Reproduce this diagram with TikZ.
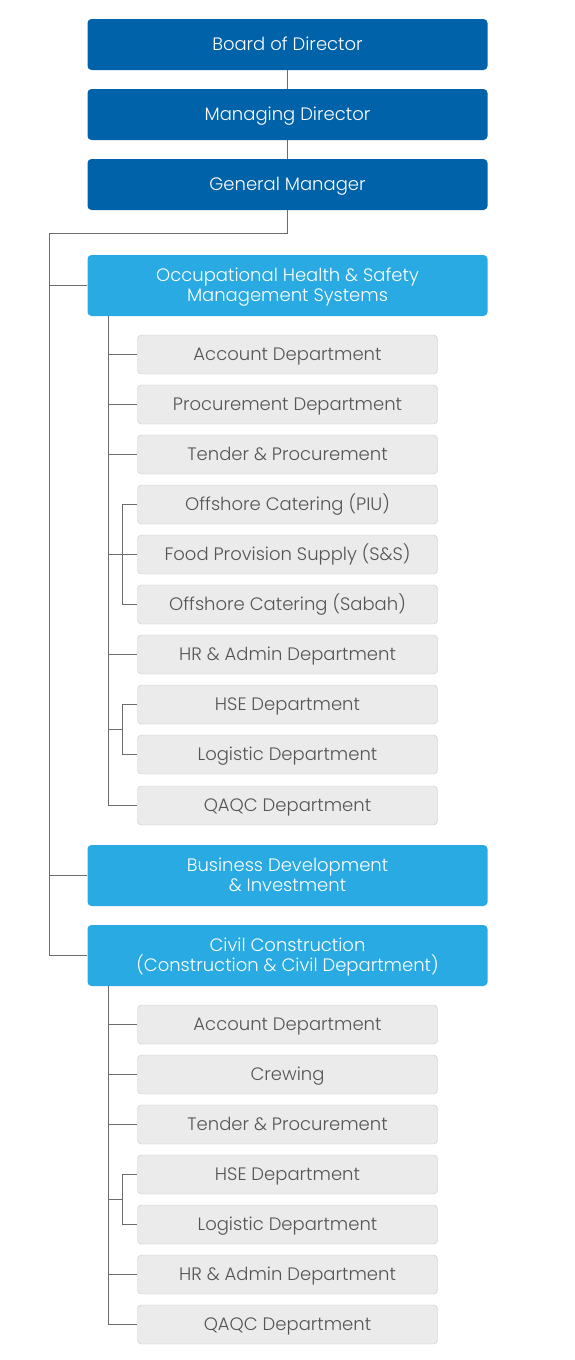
\documentclass[tikz,border=0pt]{standalone}
\usepackage{fontspec}
\setmainfont{Poppins}[UprightFont=* Light]
\usetikzlibrary{calc}
\definecolor{topblue}{HTML}{0062A8}
\definecolor{unitblue}{HTML}{29AAE2}
\definecolor{deptgray}{HTML}{EBEBEB}
\definecolor{deptline}{HTML}{C8C8C8}
\definecolor{depttext}{HTML}{555555}
\definecolor{linkgray}{HTML}{6B6B6B}
\begin{document}
\begin{tikzpicture}[
    x=1pt, y=-1pt,
    top/.style={
        rectangle, rounded corners=4pt, fill=topblue, text=white,
        minimum width=400pt, minimum height=51pt,
        text height=12.5pt, text depth=0pt,
        font=\fontsize{18}{20}\selectfont, inner sep=0pt
    },
    unit/.style={
        rectangle, rounded corners=4pt, fill=unitblue, text=white,
        minimum width=400pt, minimum height=61pt, align=center,
        text height=32.5pt, text depth=0pt,
        font=\fontsize{18}{20}\selectfont, inner sep=0pt
    },
    dept/.style={
        rectangle, rounded corners=4pt, draw=deptline, fill=deptgray,
        text=depttext, minimum width=300pt, minimum height=39pt,
        text height=12.5pt, text depth=0pt,
        font=\fontsize{18}{20}\selectfont, inner sep=0pt
    },
    link/.style={draw=linkgray, line width=1pt}
]
\useasboundingbox (0,0) rectangle (575,1360);

% --- Top management ---
\node[top] (board) at (287.5, 44.5) {Board of Director};
\node[top] (md)    at (287.5,114.5) {Managing Director};
\node[top] (gm)    at (287.5,184.5) {General Manager};

% --- Units ---
\node[unit] (ohs)   at (287.5, 285.5) {Occupational Health \& Safety\\Management Systems};
\node[unit] (bdi)   at (287.5, 875.5) {Business Development\\\& Investment};
\node[unit] (civil) at (287.5, 955.5) {Civil Construction\\(Construction \& Civil Department)};

% --- OHS departments ---
\node[dept] (o1)  at (287.5, 354.5) {Account Department};
\node[dept] (o2)  at (287.5, 404.5) {Procurement Department};
\node[dept] (o3)  at (287.5, 454.5) {Tender \& Procurement};
\node[dept] (o4)  at (287.5, 504.5) {Offshore Catering (PIU)};
\node[dept] (o5)  at (287.5, 554.5) {Food Provision Supply (S\&S)};
\node[dept] (o6)  at (287.5, 604.5) {Offshore Catering (Sabah)};
\node[dept] (o7)  at (287.5, 654.5) {HR \& Admin Department};
\node[dept] (o8)  at (287.5, 704.5) {HSE Department};
\node[dept] (o9)  at (287.5, 754.5) {Logistic Department};
\node[dept] (o10) at (287.5, 805.5) {QAQC Department};

% --- Civil departments ---
\node[dept] (c1) at (287.5,1024.5) {Account Department};
\node[dept] (c2) at (287.5,1074.5) {Crewing};
\node[dept] (c3) at (287.5,1124.5) {Tender \& Procurement};
\node[dept] (c4) at (287.5,1174.5) {HSE Department};
\node[dept] (c5) at (287.5,1224.5) {Logistic Department};
\node[dept] (c6) at (287.5,1274.5) {HR \& Admin Department};
\node[dept] (c7) at (287.5,1324.5) {QAQC Department};

% --- Spine coordinates ---
\coordinate (sp)  at (49.5, 233.5);
\coordinate (osp) at (108, 316);
\coordinate (csp) at (108, 986);
\coordinate (br)  at (122.5, 0);
\coordinate (ohl) at ($(o8.west)!.5!(o9.west)$);
\coordinate (chl) at ($(c4.west)!.5!(c5.west)$);

% --- Top links ---
\draw[link] (board) -- (md);
\draw[link] (md) -- (gm);
\draw[link] (gm.south) |- (sp) |- (civil.west);
\draw[link] (ohs.west) -- (ohs.west -| sp);
\draw[link] (bdi.west) -- (bdi.west -| sp);

% --- OHS links ---
\draw[link] (osp) |- (o10.west);
\draw[link] (o1.west) -- (o1.west -| osp);
\draw[link] (o2.west) -- (o2.west -| osp);
\draw[link] (o3.west) -- (o3.west -| osp);
\draw[link] (o5.west) -- (o5.west -| osp);
\draw[link] (o7.west) -- (o7.west -| osp);
\draw[link] (o4.west) -- (o4.west -| br) |- (o6.west);
\draw[link] (o8.west) -- (o8.west -| br) |- (o9.west);
\draw[link] (ohl -| osp) -- (ohl -| br);

% --- Civil links ---
\draw[link] (csp) |- (c7.west);
\draw[link] (c1.west) -- (c1.west -| csp);
\draw[link] (c2.west) -- (c2.west -| csp);
\draw[link] (c3.west) -- (c3.west -| csp);
\draw[link] (c6.west) -- (c6.west -| csp);
\draw[link] (c4.west) -- (c4.west -| br) |- (c5.west);
\draw[link] (chl -| csp) -- (chl -| br);

\end{tikzpicture}
\end{document}
